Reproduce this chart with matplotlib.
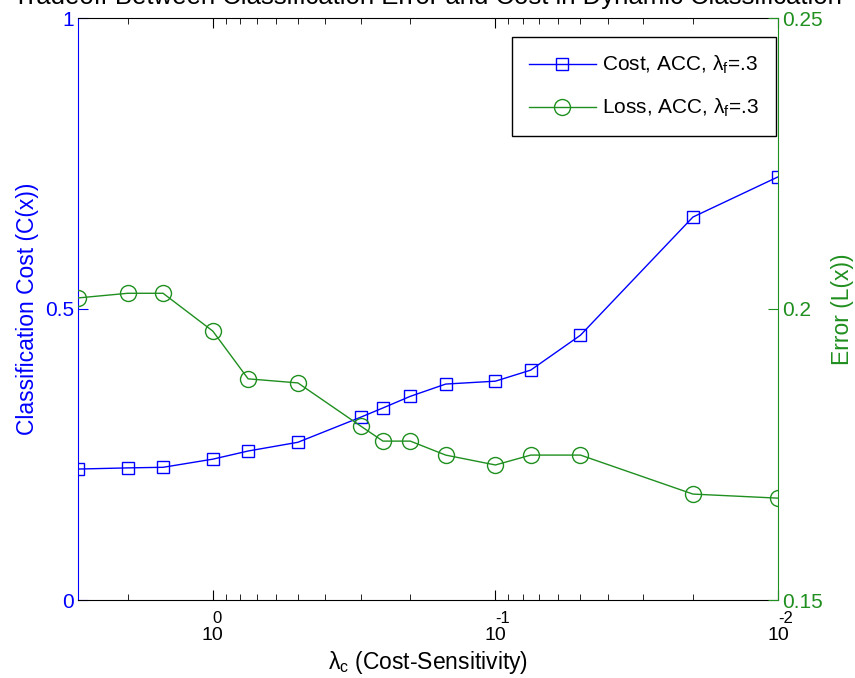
import matplotlib
matplotlib.use("Agg")
import matplotlib.pyplot as plt
from matplotlib.ticker import LogLocator, NullFormatter, FixedLocator
import matplotlib.transforms as mtransforms

plt.rcParams["font.family"] = ["Liberation Sans", "DejaVu Sans"]
plt.rcParams["font.size"] = 15
plt.rcParams["mathtext.default"] = "regular"

# lambda_c values (cost-sensitivity)
lam_c = [3.0, 2.0, 1.5, 1.0, 0.75, 0.5, 0.3, 0.25, 0.2, 0.15, 0.1, 0.075, 0.05, 0.02, 0.01]
cost = [0.225, 0.227, 0.228, 0.242, 0.256, 0.271, 0.314, 0.330, 0.350, 0.371,
        0.376, 0.395, 0.455, 0.658, 0.727]
loss = [0.2019, 0.2027, 0.2027, 0.1962, 0.1880, 0.1873, 0.1799, 0.1773, 0.1773,
        0.1749, 0.1732, 0.1749, 0.1749, 0.1682, 0.1675]
decades = [1.0, 0.1, 0.01]
exps = ["0", "-1", "-2"]

BLUE = "#0000ff"
GREEN = "#1f8f1f"

fig = plt.figure(figsize=(8.55, 6.78), dpi=100)
ax = fig.add_axes([78 / 855, 78 / 678, 700 / 855, 582 / 678])
ax2 = ax.twinx()

l1, = ax.plot(lam_c, cost, "-s", color=BLUE, lw=1.0, ms=9, mfc="none", mew=1.0,
              label=r"Cost, ACC, $\lambda_f$=.3")
l2, = ax2.plot(lam_c, loss, "-o", color=GREEN, lw=1.0, ms=11.5, mfc="none", mew=1.0,
               label=r"Loss, ACC, $\lambda_f$=.3")

ax.set_xscale("log")
ax.set_xlim(3.0, 0.01)
ax.set_ylim(0, 1)
ax2.set_ylim(0.15, 0.25)

ax.set_yticks([0, 0.5, 1])
ax.set_yticklabels(["0", "0.5", "1"])
ax2.set_yticks([0.15, 0.2, 0.25])
ax2.set_yticklabels(["0.15", "0.2", "0.25"])

ax.xaxis.set_major_locator(FixedLocator(decades))
ax.xaxis.set_minor_locator(LogLocator(base=10, subs=range(2, 10), numticks=20))
ax.xaxis.set_major_formatter(NullFormatter())
ax.xaxis.set_minor_formatter(NullFormatter())
ax.tick_params(axis="x", which="both", direction="in", top=True, bottom=True)
ax.tick_params(axis="x", which="major", length=7)
ax.tick_params(axis="x", which="minor", length=4)
ax.tick_params(axis="y", direction="in", length=7, colors=BLUE, labelsize=15, pad=3)
ax2.tick_params(axis="y", direction="in", length=7, colors=GREEN, labelsize=15, pad=3)

for s in ["top", "bottom"]:
    ax2.spines[s].set_visible(False)
ax.spines["left"].set_color(BLUE)
ax2.spines["left"].set_visible(False)
ax.spines["right"].set_visible(False)
ax2.spines["right"].set_color(GREEN)

# MATLAB-style tick labels: "10" with the exponent raised above it
tr = mtransforms.blended_transform_factory(ax.transData, ax.transAxes)
for d, e in zip(decades, exps):
    ax.text(d, -0.061, "10", transform=tr, ha="center", va="center", fontsize=14)
    ax.text(d, -0.031, e, transform=tr, ha="left", va="center", fontsize=12)

ax.set_xlabel(r"$\lambda_c$ (Cost-Sensitivity)", labelpad=32, fontsize=16.5)
ax.set_ylabel("Classification Cost (C(x))", color=BLUE, labelpad=4, fontsize=16.5)
ax2.set_ylabel("Error (L(x))", color=GREEN, labelpad=6, fontsize=16.5)

leg = ax.legend(handles=[l1, l2], loc="upper right", fancybox=False, edgecolor="black",
                framealpha=1, handlelength=3.2, borderpad=0.8, labelspacing=1.0,
                handletextpad=0.3, borderaxespad=0, fontsize=15,
                bbox_to_anchor=(0.997, 0.967))
leg.get_frame().set_linewidth(1.0)

fig.text(0.5, 1 - 4 / 678,
         "Tradeoff Between Classification Error and Cost in Dynamic Classification",
         ha="center", va="baseline", fontsize=18.5)

fig.savefig("out.png", dpi=100)
